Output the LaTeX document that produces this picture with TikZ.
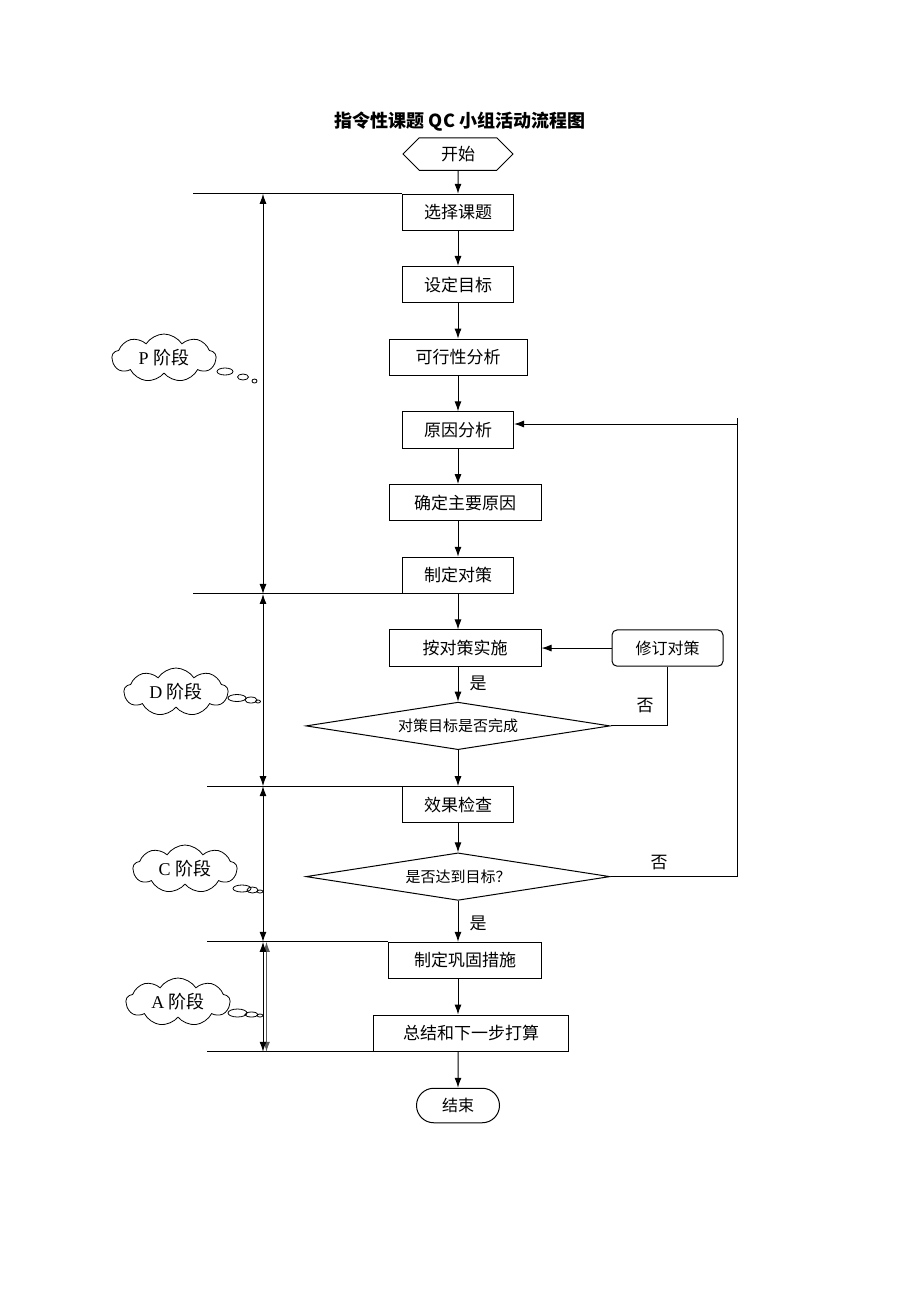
\documentclass[tikz,border=0pt]{standalone}
\usepackage{fontspec}
\setmainfont{Liberation Serif}
\newfontfamily\cjk{Noto Sans CJK SC}
\usetikzlibrary{positioning,shapes,arrows,arrows.meta}

\begin{document}
\begin{tikzpicture}[
	x=1pt,y=-1pt,
	line width=1pt,
	node distance=36pt,
	>={Latex[length=10pt,width=7pt]},
	mybox/.style={draw,rectangle,minimum height=36.2pt,inner sep=0pt,font=\cjk\fontsize{17}{17}\selectfont},
	myhexa/.style={draw,signal,signal to=east and west,signal pointer angle=90,minimum width=110pt,minimum height=32.5pt,inner sep=0pt,font=\cjk\fontsize{17}{17}\selectfont},
	myend/.style={draw,rounded rectangle,minimum width=83pt,minimum height=34.5pt,inner sep=0pt,font=\cjk\fontsize{16}{16}\selectfont},
	mydecision/.style={draw,diamond,aspect=6.35,minimum width=304pt,minimum height=47.5pt,inner sep=0pt,font=\cjk\fontsize{15}{15}\selectfont},
	mycloud/.style={draw,cloud,cloud puffs=9,cloud puff arc=115,aspect=2.2,minimum width=104pt,minimum height=48pt,inner sep=0pt,line width=0.8pt,font=\fontsize{18}{18}\selectfont},
	mylabel/.style={font=\cjk\fontsize{17}{17}\selectfont}
	]
	\useasboundingbox (0,0) rectangle (920,1302);
	\node[font=\cjk\bfseries\fontsize{18}{18}\selectfont] (title) at (460,122) {指令性课题 QC 小组活动流程图};
	% main chain
	\node[myhexa] (start) at (458,154) {开始};
	\node[mybox,minimum width=111pt,below=23pt of start] (xzkt) {选择课题};
	\node[mybox,minimum width=111pt,below=35pt of xzkt] (sdmb) {设定目标};
	\node[mybox,minimum width=138pt,below=35.5pt of sdmb] (kxx) {可行性分析};
	\node[mybox,minimum width=111pt,below=35.5pt of kxx] (yyfx) {原因分析};
	\node[mybox,minimum width=152pt,below=35.5pt of yyfx,xshift=7pt] (qdyy) {确定主要原因};
	\node[mybox,minimum width=111pt,below=35.5pt of qdyy,xshift=-7pt] (zddc) {制定对策};
	\node[mybox,minimum width=152pt,below=35.5pt of zddc,xshift=7pt] (ssdc) {按对策实施};
	\node[mybox,rounded corners=5pt,minimum width=111pt,right=70pt of ssdc,font=\cjk\fontsize{16}{16}\selectfont] (xddc) {修订对策};
	\node[mydecision,below=35pt of ssdc,xshift=-7pt] (dcwc) {对策目标是否完成};
	\node[mybox,minimum width=111pt,below=36pt of dcwc] (xgjc) {效果检查};
	\node[mydecision,below=29pt of xgjc] (ddmb) {是否达到目标？};
	\node[mybox,minimum width=153pt,below=41pt of ddmb,xshift=7pt] (gggs) {制定巩固措施};
	\node[mybox,minimum width=195pt,below=35.5pt of gggs,xshift=6pt] (zjxb) {总结和下一步打算};
	\node[myend,below=36pt of zjxb,xshift=-13pt] (end) {结束};
	\path [->]
	(start) edge (xzkt)
	(xzkt) edge (sdmb)
	(sdmb) edge (kxx)
	(kxx) edge (yyfx)
	(yyfx) edge (qdyy.north -| yyfx)
	(qdyy.south -| zddc) edge (zddc)
	(zddc) edge (ssdc.north -| zddc)
	(ssdc.south -| dcwc) edge (dcwc)
	(dcwc) edge (xgjc)
	(xgjc) edge (ddmb)
	(ddmb) edge (gggs.north -| ddmb)
	(gggs.south -| ddmb) edge (zjxb.north -| ddmb)
	(zjxb.south -| end) edge (end)
	(xddc) edge (ssdc);
	\node[mylabel] (yes1) at (478,683) {是};
	\node[mylabel] (yes2) at (478,923) {是};
	\node[mylabel] (no1) at (645,706) {否};
	\node[mylabel] (no2) at (659,863) {否};
	% loops back
	\draw (dcwc.east) -| (xddc.south);
	\coordinate (rtop) at (737,418);
	\coordinate (rloop) at (737,424);
	\draw (ddmb.east) -| (rtop);
	\draw[->] (rloop) -- (rloop -| yyfx.east);
	% phases
	\coordinate (pl) at (193,0);
	\coordinate (dl) at (207,0);
	\coordinate (axis) at (263,0);
	\coordinate (axisg) at (266.5,0);
	\draw (xzkt.north west -| pl) -- (xzkt.north west);
	\draw (zddc.south west -| pl) -- (zddc.south west);
	\draw (xgjc.north west -| dl) -- (xgjc.north west);
	\draw (gggs.north west -| dl) -- (gggs.north west);
	\draw (zjxb.south west -| dl) -- (zjxb.south west);
	\draw[<->,gray!70!black] (gggs.north -| axisg) -- (zjxb.south -| axisg);
	\draw[<->] (xzkt.north -| axis) -- (zddc.south -| axis);
	\draw[<->] (zddc.south -| axis) -- (xgjc.north -| axis);
	\draw[<->] (xgjc.north -| axis) -- (gggs.north -| axis);
	\draw[<->] (gggs.north -| axis) -- (zjxb.south -| axis);
	% clouds
	\node[mycloud] (pcloud) at (164,358) {P {\cjk 阶段}};
	\node[mycloud] (dcloud) at (176,692) {D {\cjk 阶段}};
	\node[mycloud] (ccloud) at (185,869) {C {\cjk 阶段}};
	\node[mycloud] (acloud) at (178,1002) {A {\cjk 阶段}};
	\foreach \cx/\cy/\rx/\ry in {225/371.5/8/3.5, 243/377/5.5/3, 254.5/381/2.5/2,
		237/698/9/3.5, 251/700/6/3, 258/701.5/2.5/1.5,
		242/888.5/9/3.5, 252.5/890/5.5/3, 260/891.5/3/1.5,
		237.5/1013/9.5/4, 251.5/1014.5/6.5/2.5, 260/1015.5/3/1.5}
		\draw[line width=0.8pt] (\cx,\cy) ellipse [x radius=\rx pt,y radius=\ry pt];
\end{tikzpicture}
\end{document}
